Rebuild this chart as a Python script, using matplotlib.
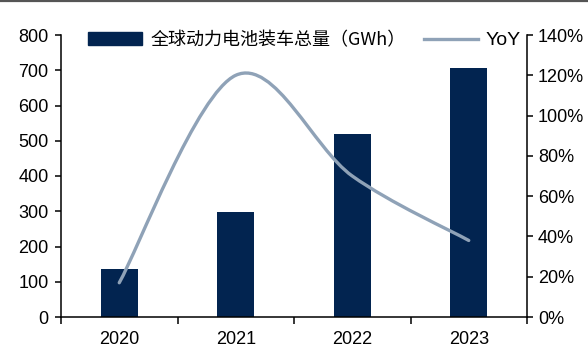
import numpy as np
import matplotlib
matplotlib.use("Agg")
import matplotlib.pyplot as plt
from matplotlib.path import Path
from matplotlib.patches import PathPatch, Patch
from matplotlib.lines import Line2D

# 全球动力电池装车量及同比
years = ["2020", "2021", "2022", "2023"]
install_gwh = [137, 296.8, 517.9, 705.5]
yoy_pct = [17, 120, 70, 38]

bar_color = "#022450"
line_color = "#8fa2b7"

plt.rcParams["font.family"] = ["Liberation Sans", "DejaVu Sans"]

fig = plt.figure(figsize=(5.88, 3.47), dpi=100)
ax = fig.add_axes([61 / 588, 30 / 347, 466 / 588, 282 / 347])
ax2 = ax.twinx()

x = np.arange(len(years))
ax.bar(x, install_gwh, width=0.32, color=bar_color, zorder=2)

# 平滑曲线：用三次贝塞尔连接各点（类似 Excel 平滑线）
pts = np.column_stack([x, yoy_pct]).astype(float)
ext = np.vstack([pts[0], pts, pts[-1]])
verts = [tuple(pts[0])]
codes = [Path.MOVETO]
for i in range(len(pts) - 1):
    p0, p1, p2, p3 = ext[i], ext[i + 1], ext[i + 2], ext[i + 3]
    c1 = p1 + (p2 - p0) / 6
    c2 = p2 - (p3 - p1) / 6
    verts += [tuple(c1), tuple(c2), tuple(p2)]
    codes += [Path.CURVE4] * 3
curve = PathPatch(Path(verts, codes), facecolor="none", edgecolor=line_color,
                  lw=2.4, capstyle="round", transform=ax2.transData, zorder=3)
ax2.add_patch(curve)

ax.set_xlim(-0.5, 3.5)
ax.set_ylim(0, 800)
ax2.set_ylim(0, 140)

ax.set_yticks(np.arange(0, 801, 100))
ax2.set_yticks(np.arange(0, 141, 20))
ax2.set_yticklabels([f"{v}%" for v in range(0, 141, 20)])

ax.set_xticks(x)
ax.set_xticklabels(years)
ax.set_xticks(np.arange(-0.5, 3.6, 1), minor=True)
ax.tick_params(axis="x", which="major", length=0, pad=10, labelsize=13)
ax.tick_params(axis="x", which="minor", length=5, width=1.1, direction="out")
ax.tick_params(axis="y", length=4, width=1.1, pad=5, labelsize=13)
ax2.tick_params(axis="y", length=4, width=1.1, pad=4, labelsize=13)

for a in (ax, ax2):
    a.spines["top"].set_visible(False)
    for s in ("left", "right", "bottom"):
        a.spines[s].set_linewidth(1.1)
ax.spines["right"].set_visible(False)
ax2.spines["left"].set_visible(False)
ax2.spines["bottom"].set_visible(False)

handles = [Patch(color=bar_color), Line2D([], [], color=line_color, lw=2.4)]
labels = ["全球动力电池装车总量（GWh）", "YoY"]
fig.legend(handles, labels, ncol=2, loc="center left",
           bbox_to_anchor=(88 / 588, 1 - 40 / 347), frameon=False,
           borderpad=0, borderaxespad=0, handlelength=3.0, handleheight=0.7,
           handletextpad=0.45, columnspacing=1.0,
           prop={"family": ["Noto Sans CJK SC", "Liberation Sans"], "size": 13})
for t in fig.legends[0].get_texts():
    if t.get_text() == "YoY":
        t.set_fontfamily(["Liberation Sans"])
        t.set_fontsize(14)

# 顶部灰色分隔线
fig.add_artist(Line2D([0, 1], [1 - 1 / 347, 1 - 1 / 347], color="#555555",
                      lw=1.6, transform=fig.transFigure))

fig.savefig("out.png", dpi=100)
